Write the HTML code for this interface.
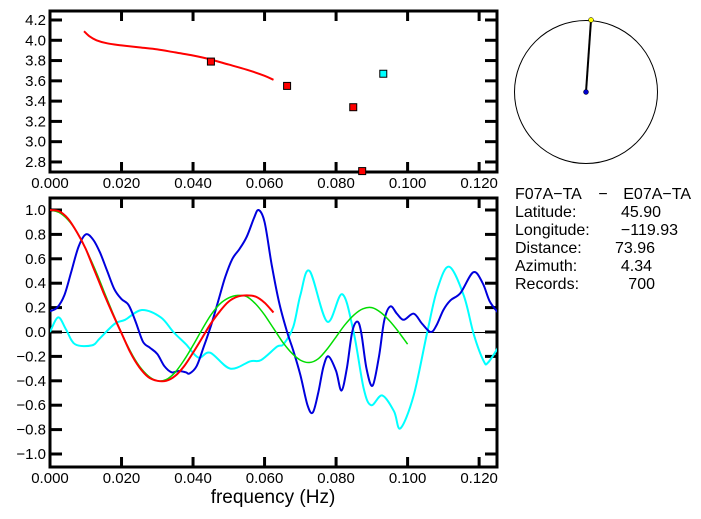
<!DOCTYPE html>
<html><head><meta charset="utf-8"><style>
html,body{margin:0;padding:0;background:#fff;}
svg{display:block;font-family:"Liberation Sans",sans-serif;}
.info{font-family:"Liberation Sans",sans-serif;font-size:16px;}
</style></head><body>
<svg id="chart" width="701" height="519" viewBox="0 0 701 519">
<g id="top"></g>
<g id="bot"></g>
<g id="map">
<circle cx="586" cy="92" r="71.5" fill="none" stroke="#000" stroke-width="1"/>
<line x1="586" y1="92" x2="591" y2="20" stroke="#000" stroke-width="2"/>
<circle cx="586" cy="92" r="2.5" fill="#0000cc" stroke="#000" stroke-width="0.5"/>
<circle cx="591" cy="20" r="2.5" fill="#ffff00" stroke="#000" stroke-width="0.5"/>
</g>
<g class="info">
<text x="515" y="199">F07A−TA</text>
<text x="603" y="199" text-anchor="middle">−</text>
<text x="691" y="199" text-anchor="end">E07A−TA</text>
<text x="515" y="217">Latitude:</text>
<text x="661" y="217" text-anchor="end">45.90</text>
<text x="515" y="235">Longitude:</text>
<text x="678" y="235" text-anchor="end">−119.93</text>
<text x="515" y="253">Distance:</text>
<text x="655" y="253" text-anchor="end">73.96</text>
<text x="515" y="271">Azimuth:</text>
<text x="652" y="271" text-anchor="end">4.34</text>
<text x="515" y="289">Records:</text>
<text x="655" y="289" text-anchor="end">700</text>
</g>
<text x="273" y="503" text-anchor="middle" font-size="19">frequency (Hz)</text>
</svg>
<script>
// ---- data ----
const topCurveF=[0.0095,0.011,0.013,0.016,0.020,0.025,0.030,0.035,0.040,0.045,0.050,0.055,0.060,0.0625];
const topCurveV=[4.09,4.04,4.00,3.97,3.95,3.93,3.91,3.88,3.85,3.81,3.76,3.71,3.65,3.61];
const redMarkF=[0.045,0.0663,0.0848,0.0873];
const redMarkV=[3.79,3.55,3.34,2.71];
const cyanMarkF=[0.0932];
const cyanMarkV=[3.67];
const topYTicks=[2.8,3.0,3.2,3.4,3.6,3.8,4.0,4.2];
const xTicks=[0,0.02,0.04,0.06,0.08,0.10,0.12];
const botYTicks=[-1.0,-0.8,-0.6,-0.4,-0.2,0.0,0.2,0.4,0.6,0.8,1.0];
const blueF=[0,0.002,0.004,0.006,0.008,0.010,0.012,0.014,0.016,0.018,0.020,0.022,0.024,0.026,0.028,0.030,0.032,0.034,0.036,0.038,0.039,0.041,0.043,0.045,0.047,0.049,0.051,0.053,0.055,0.057,0.0583,0.060,0.062,0.064,0.0663,0.068,0.070,0.072,0.0735,0.075,0.0765,0.0779,0.080,0.0815,0.083,0.0845,0.0859,0.087,0.0885,0.0902,0.092,0.0935,0.0952,0.097,0.0989,0.1017,0.104,0.1064,0.108,0.110,0.112,0.1148,0.1184,0.121,0.123,0.1254];
const blueV=[0.17,0.2,0.3,0.5,0.7,0.8,0.76,0.65,0.5,0.35,0.27,0.22,0.08,-0.08,-0.13,-0.18,-0.28,-0.33,-0.32,-0.33,-0.34,-0.28,-0.12,0.05,0.25,0.45,0.6,0.68,0.78,0.93,1.0,0.9,0.55,0.25,0.0,-0.15,-0.35,-0.6,-0.66,-0.5,-0.28,-0.2,-0.32,-0.48,-0.3,0.0,0.085,0.0,-0.3,-0.44,-0.2,0.1,0.21,0.15,0.1,0.15,0.07,0.0,0.05,0.18,0.26,0.32,0.49,0.4,0.25,0.155];
const cyanF=[0,0.0023,0.0045,0.007,0.0117,0.014,0.0182,0.021,0.0257,0.031,0.0345,0.038,0.0415,0.0448,0.0504,0.056,0.059,0.0635,0.0653,0.068,0.070,0.0726,0.0775,0.0817,0.0849,0.0877,0.0898,0.0929,0.0962,0.098,0.1017,0.1055,0.1083,0.1116,0.1157,0.1185,0.1213,0.1225,0.1255];
const cyanV=[0.0,0.12,0.02,-0.1,-0.11,-0.05,0.07,0.1,0.18,0.12,0.0,-0.1,-0.21,-0.17,-0.3,-0.24,-0.23,-0.12,-0.1,0.04,0.3,0.5,0.085,0.31,0.0,-0.46,-0.6,-0.52,-0.65,-0.79,-0.52,0.0,0.35,0.535,0.3,-0.02,-0.24,-0.25,-0.12];
const greenF=[0,0.0025,0.005,0.0075,0.010,0.0125,0.015,0.0175,0.020,0.0225,0.025,0.0275,0.030,0.0325,0.035,0.0375,0.040,0.0425,0.045,0.0475,0.050,0.0525,0.055,0.0575,0.060,0.0625,0.065,0.0675,0.070,0.0725,0.075,0.0775,0.080,0.0825,0.085,0.0875,0.090,0.0925,0.095,0.0975,0.100];
const greenV=[1.0,0.98,0.92,0.82,0.68,0.52,0.34,0.16,-0.01,-0.16,-0.28,-0.36,-0.4,-0.39,-0.33,-0.23,-0.11,0.02,0.14,0.23,0.28,0.3,0.29,0.23,0.14,0.03,-0.08,-0.17,-0.23,-0.25,-0.22,-0.14,-0.04,0.06,0.14,0.19,0.2,0.16,0.09,0.0,-0.1];
const redF=[0,0.0025,0.005,0.0075,0.010,0.0125,0.015,0.0175,0.020,0.0225,0.025,0.0275,0.030,0.0325,0.035,0.0375,0.040,0.0425,0.045,0.0475,0.050,0.0525,0.055,0.0575,0.060,0.0625];
const redV=[1.0,0.99,0.93,0.82,0.68,0.5,0.32,0.15,-0.01,-0.17,-0.29,-0.37,-0.4,-0.4,-0.36,-0.28,-0.17,-0.05,0.07,0.17,0.25,0.29,0.3,0.29,0.24,0.16];

const NS='http://www.w3.org/2000/svg';
const L=50,R=497;
const xs=f=>L+f/0.125*(R-L);
const tyT=v=>20+(4.2-v)*101.4;
const tyB=v=>332-v*122;
function mk(tag,attrs,parent){const e=document.createElementNS(NS,tag);for(const k in attrs)e.setAttribute(k,attrs[k]);parent.appendChild(e);return e;}
function smooth(F,V,ys){const p=F.map((f,i)=>[xs(f),ys(V[i])]);let d='M'+p[0][0].toFixed(1)+','+p[0][1].toFixed(1);
for(let i=0;i<p.length-1;i++){const p0=p[i-1]||p[i],p1=p[i],p2=p[i+1],p3=p[i+2]||p2;
const c1=[p1[0]+(p2[0]-p0[0])/6,p1[1]+(p2[1]-p0[1])/6],c2=[p2[0]-(p3[0]-p1[0])/6,p2[1]-(p3[1]-p1[1])/6];
d+='C'+c1.map(n=>n.toFixed(1))+' '+c2.map(n=>n.toFixed(1))+' '+p2.map(n=>n.toFixed(1));}return d;}
function frame(g,top,bot,yTicks,ys,fmt){
 const r=mk('rect',{x:L,y:top,width:R-L,height:bot-top,fill:'none',stroke:'#000','stroke-width':3},g);
 
 
 xTicks.forEach(t=>{const x=xs(t);
  if(t>0){const a=mk('line',{x1:x,y1:top,x2:x,y2:top+10,stroke:'#000','stroke-width':3},g);
  
  
  const b=mk('line',{x1:x,y1:bot,x2:x,y2:bot-10,stroke:'#000','stroke-width':3},g);
  
  }
  const tx=mk('text',{x:x,y:bot+16,'text-anchor':'middle','font-size':15},g);tx.textContent=t.toFixed(3);
  
  });
 yTicks.forEach(t=>{const y=ys(t);
  const a=mk('line',{x1:L,y1:y,x2:L+12,y2:y,stroke:'#000','stroke-width':3},g);
  
  
  const b=mk('line',{x1:R,y1:y,x2:R-12,y2:y,stroke:'#000','stroke-width':3},g);
  
  
  const tx=mk('text',{x:L-4,y:y+5,'text-anchor':'end','font-size':15},g);tx.textContent=fmt(t);
  
  });
}
const gt=document.getElementById('top'),gb=document.getElementById('bot');
frame(gt,11,172,topYTicks,tyT,v=>v.toFixed(1));
const tc=mk('path',{d:smooth(topCurveF,topCurveV,tyT),fill:'none',stroke:'#ff0000','stroke-width':2},gt);


redMarkF.forEach((f,i)=>{const m=mk('rect',{x:xs(f)-3.5,y:tyT(redMarkV[i])-3.5,width:7,height:7,fill:'#ff0000',stroke:'#000','stroke-width':1},gt);
 
 });
cyanMarkF.forEach((f,i)=>{const m=mk('rect',{x:xs(f)-3.5,y:tyT(cyanMarkV[i])-3.5,width:7,height:7,fill:'#00ffff',stroke:'#000','stroke-width':1},gt);
 
 });
frame(gb,198,467,botYTicks,tyB,v=>v.toFixed(1).replace('-','−'));
const z=mk('line',{x1:L,y1:Math.round(tyB(0))+0.5,x2:R,y2:Math.round(tyB(0))+0.5,stroke:'#000','stroke-width':1},gb);


const cp=mk('clipPath',{id:'cb'},gb);mk('rect',{x:L,y:198,width:R-L,height:269},cp);
[[cyanF,cyanV,'#00ffff',2,'cyan-series'],[blueF,blueV,'#0000dd',2,'blue-series'],[greenF,greenV,'#00dd00',1.5,'green-series'],[redF,redV,'#ff0000',2,'red-series']].forEach(s=>{
 const p=mk('path',{d:smooth(s[0],s[1],tyB),fill:'none',stroke:s[2],'stroke-width':s[3],'clip-path':'url(#cb)'},gb);
 
 });
</script>
</body></html>
